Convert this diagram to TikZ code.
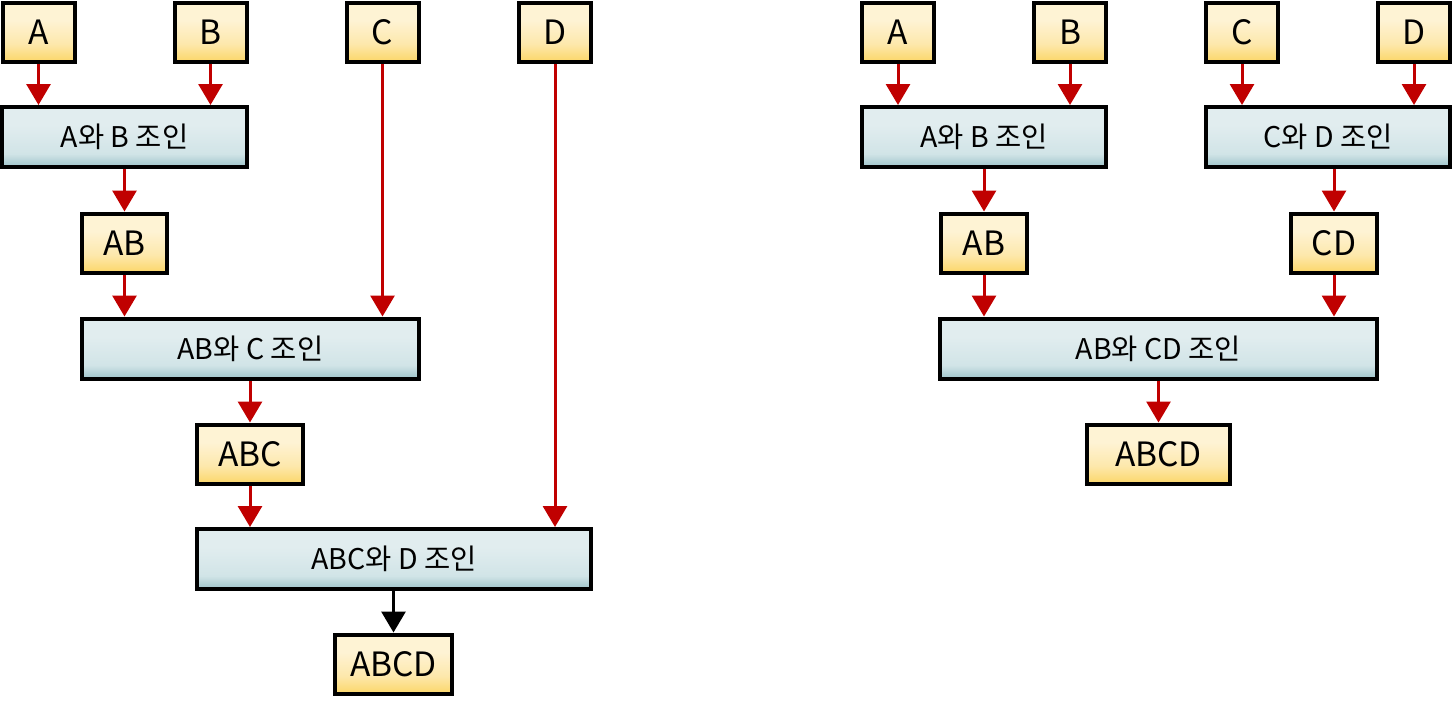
\documentclass[tikz,border=0pt]{standalone}
\usepackage{fontspec}
\setmainfont{Noto Sans CJK KR}
\usetikzlibrary{arrows.meta}
\definecolor{ytop}{HTML}{FEF3D4}
\definecolor{ymid}{HTML}{FDE8AC}
\definecolor{ybot}{HTML}{FCD669}
\definecolor{btop}{HTML}{E1EDEF}
\definecolor{bmid}{HTML}{D1E4E7}
\definecolor{bbot}{HTML}{9EC4CA}
\definecolor{arr}{HTML}{C00000}
\pgfdeclareverticalshading{yshade}{100bp}{color(0bp)=(ybot); color(25bp)=(ybot); color(40bp)=(ymid); color(60bp)=(ytop); color(75bp)=(ytop); color(100bp)=(ytop)}
\pgfdeclareverticalshading{bshade}{100bp}{color(0bp)=(bbot); color(25bp)=(bbot); color(36bp)=(bmid); color(60bp)=(btop); color(75bp)=(btop); color(100bp)=(btop)}
\tikzset{
  tbl/.style={draw=black, line width=4pt, shading=yshade,
    minimum height=59pt, inner sep=0pt, font=\fontsize{33.5}{38}\selectfont},
  joinbox/.style={draw=black, line width=4pt, shading=bshade,
    minimum height=60pt, inner sep=0pt, font=\fontsize{28.5}{33}\selectfont},
  flow/.style={draw=arr, line width=3pt, -{Triangle[width=24pt,length=21pt]}},
  flowk/.style={draw=black, line width=3pt, -{Triangle[width=24pt,length=21pt]}}
}
\begin{document}
\begin{tikzpicture}[x=1pt,y=-1pt]
\useasboundingbox (0,0) rectangle (1453,705);
% ---------- left ----------
\node[tbl, minimum width=72pt] (lA) at (38.5,32) {A};
\node[tbl, minimum width=72pt] (lB) at (210.5,32) {B};
\node[tbl, minimum width=72pt] (lC) at (382.5,32) {C};
\node[tbl, minimum width=72pt] (lD) at (555,32) {D};
\node[joinbox, minimum width=245pt] (lJab) at (124.5,137) {A와 B 조인};
\node[tbl, minimum width=85pt] (lAB) at (124.5,243) {AB};
\node[joinbox, minimum width=337pt] (lJabc) at (250.5,348.5) {AB와 C 조인};
\node[tbl, minimum width=106pt] (lABC) at (250,454) {ABC};
\node[joinbox, minimum width=394pt] (lJabcd) at (394,559) {ABC와 D 조인};
\node[tbl, minimum width=117pt] (lABCD) at (393.5,664) {ABCD};
\draw[flow] (lA.south) -- (lA.south |- lJab.north);
\draw[flow] (lB.south) -- (lB.south |- lJab.north);
\draw[flow] (lJab.south) -- (lAB.north);
\draw[flow] (lAB.south) -- (lAB.south |- lJabc.north);
\draw[flow] (lC.south) -- (lC.south |- lJabc.north);
\draw[flow] (lABC.north |- lJabc.south) -- (lABC.north);
\draw[flow] (lABC.south) -- (lABC.south |- lJabcd.north);
\draw[flow] (lD.south) -- (lD.south |- lJabcd.north);
\draw[flowk] (lABCD.north |- lJabcd.south) -- (lABCD.north);
% ---------- right ----------
\node[tbl, minimum width=72pt] (rA) at (898,32) {A};
\node[tbl, minimum width=72pt] (rB) at (1070,32) {B};
\node[tbl, minimum width=72pt] (rC) at (1242,32) {C};
\node[tbl, minimum width=72pt] (rD) at (1414,32) {D};
\node[joinbox, minimum width=244pt] (rJab) at (984,137) {A와 B 조인};
\node[joinbox, minimum width=244pt] (rJcd) at (1328,137) {C와 D 조인};
\node[tbl, minimum width=86pt] (rAB) at (984,243) {AB};
\node[tbl, minimum width=86pt] (rCD) at (1334,243) {CD};
\node[joinbox, minimum width=437pt] (rJabcd) at (1158.5,348.5) {AB와 CD 조인};
\node[tbl, minimum width=143pt] (rABCD) at (1158.5,454) {ABCD};
\draw[flow] (rA.south) -- (rA.south |- rJab.north);
\draw[flow] (rB.south) -- (rB.south |- rJab.north);
\draw[flow] (rC.south) -- (rC.south |- rJcd.north);
\draw[flow] (rD.south) -- (rD.south |- rJcd.north);
\draw[flow] (rAB.north |- rJab.south) -- (rAB.north);
\draw[flow] (rCD.north |- rJcd.south) -- (rCD.north);
\draw[flow] (rAB.south) -- (rAB.south |- rJabcd.north);
\draw[flow] (rCD.south) -- (rCD.south |- rJabcd.north);
\draw[flow] (rJabcd.south) -- (rABCD.north);
\end{tikzpicture}
\end{document}
